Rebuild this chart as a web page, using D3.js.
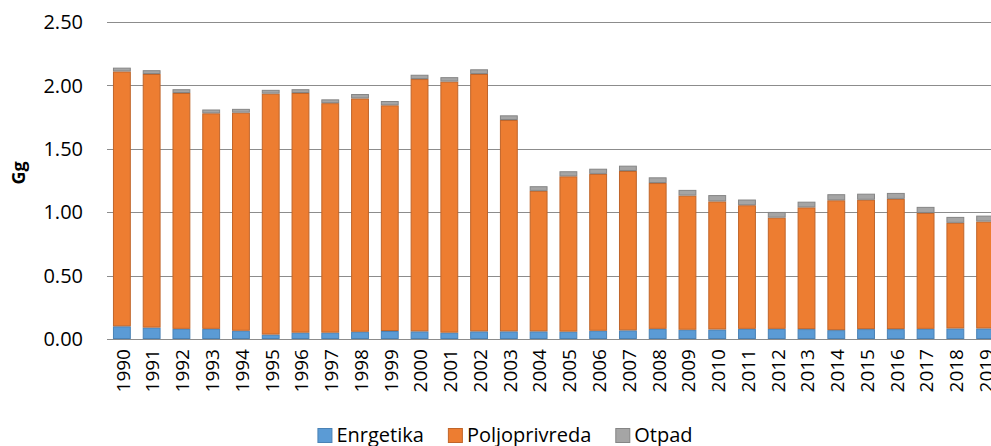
<!DOCTYPE html>
<html>
<head>
<meta charset="utf-8">
<script src="https://cdn.jsdelivr.net/npm/d3@7"></script>
<style>
  body { margin: 0; background: #fff; }
  svg { display: block; font-family: "Open Sans", sans-serif; }
</style>
</head>
<body>
<script>
const years = d3.range(1990, 2020).map(String);
const energetika = [0.10, 0.09, 0.08, 0.08, 0.065, 0.035, 0.05, 0.05, 0.057, 0.063,
  0.06, 0.05, 0.06, 0.06, 0.06, 0.058, 0.065, 0.068, 0.08, 0.073,
  0.075, 0.08, 0.08, 0.078, 0.07, 0.078, 0.078, 0.08, 0.083, 0.083];
const poljoprivreda = [2.01, 2.00, 1.86, 1.70, 1.72, 1.90, 1.89, 1.81, 1.84, 1.78,
  1.99, 1.98, 2.03, 1.667, 1.108, 1.225, 1.237, 1.257, 1.15, 1.058,
  1.01, 0.975, 0.877, 0.96, 1.024, 1.02, 1.027, 0.914, 0.833, 0.843];
const otpad = [0.03, 0.03, 0.03, 0.03, 0.03, 0.03, 0.03, 0.03, 0.035, 0.034,
  0.034, 0.035, 0.037, 0.037, 0.037, 0.04, 0.041, 0.042, 0.045, 0.045,
  0.05, 0.045, 0.045, 0.045, 0.048, 0.048, 0.047, 0.048, 0.047, 0.047];
const seriesNames = ["Enrgetika", "Poljoprivreda", "Otpad"];
const yTicks = [0, 0.5, 1, 1.5, 2, 2.5];

const colors = ["#5b9bd5", "#ed7d31", "#a5a5a5"];
const strokes = ["#4a82b5", "#c0652a", "#858585"];

const width = 991, height = 446;
// plot runs a little past the right edge, as in the source
const margin = ({ top: 22, right: -9, bottom: 107, left: 107 });

const table = years.map((yr, i) => ({
  year: yr,
  Enrgetika: energetika[i],
  Poljoprivreda: poljoprivreda[i],
  Otpad: otpad[i]
}));

const stacked = d3.stack().keys(seriesNames)(table);

const x = d3.scaleBand()
  .domain(years)
  .range([margin.left, width - margin.right])
  .paddingInner(0.40)
  .paddingOuter(0.20);

const y = d3.scaleLinear()
  .domain([0, 2.5])
  .range([height - margin.bottom, margin.top]);

const svg = d3.select("body").append("svg")
  .attr("width", width)
  .attr("height", height);

// gridlines
svg.append("g")
  .selectAll("line")
  .data(yTicks)
  .join("line")
  .attr("x1", margin.left)
  .attr("x2", width)
  .attr("y1", d => Math.round(y(d)) + 0.5)
  .attr("y2", d => Math.round(y(d)) + 0.5)
  .attr("stroke", "#8c8c8c")
  .attr("stroke-width", 1);

// y labels
svg.append("g")
  .selectAll("text")
  .data(yTicks)
  .join("text")
  .attr("x", 83)
  .attr("y", d => y(d))
  .attr("dy", "0.36em")
  .attr("text-anchor", "end")
  .attr("font-size", 20)
  .attr("fill", "#000")
  .text(d => d.toFixed(2));

// y title
svg.append("text")
  .attr("transform", "translate(25,173) rotate(-90)")
  .attr("text-anchor", "middle")
  .attr("font-size", 18)
  .attr("font-weight", "bold")
  .text("Gg");

// bars
svg.append("g")
  .selectAll("g")
  .data(stacked)
  .join("g")
  .attr("fill", (d, i) => colors[i])
  .attr("stroke", (d, i) => strokes[i])
  .attr("stroke-width", 1)
  .selectAll("rect")
  .data(d => d)
  .join("rect")
  .attr("x", d => x(d.data.year) + 0.5)
  .attr("y", d => y(d[1]) + 0.5)
  .attr("width", x.bandwidth() - 1)
  .attr("height", d => Math.max(0, y(d[0]) - y(d[1]) - 1));

// x labels
svg.append("g")
  .selectAll("text")
  .data(years)
  .join("text")
  .attr("transform", d => `translate(${x(d) + x.bandwidth() / 2 + 1},349) rotate(-90)`)
  .attr("text-anchor", "end")
  .attr("dy", "0.36em")
  .attr("font-size", 19)
  .text(d => d);

// legend
const legend = svg.append("g");
let lx = 0;
seriesNames.forEach((name, i) => {
  const item = legend.append("g").attr("transform", `translate(${lx},0)`);
  item.append("rect")
    .attr("x", 0.5).attr("y", 428.5)
    .attr("width", 14).attr("height", 14)
    .attr("fill", colors[i])
    .attr("stroke", strokes[i]);
  const t = item.append("text")
    .attr("x", 19).attr("y", 442)
    .attr("font-size", 20)
    .text(name);
  lx += 19 + t.node().getComputedTextLength() + 24;
});
const legendWidth = lx - 24;
legend.attr("transform", `translate(${505 - legendWidth / 2},0)`);
</script>
</body>
</html>
